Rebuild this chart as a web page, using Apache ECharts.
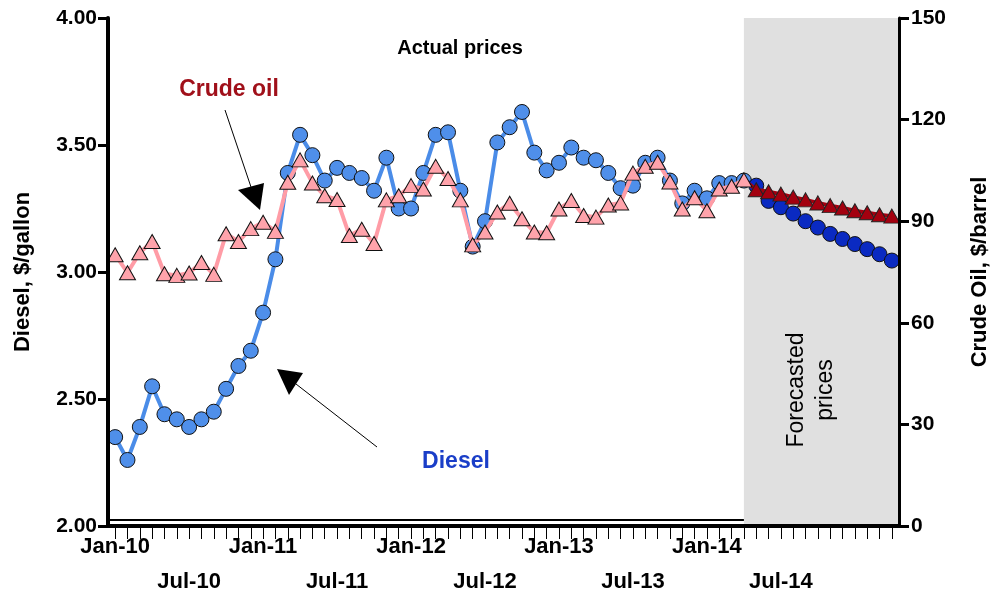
<!DOCTYPE html>
<html>
<head>
<meta charset="utf-8">
<script src="https://cdn.jsdelivr.net/npm/echarts@6/dist/echarts.min.js"></script>
<style>
  html, body { margin: 0; padding: 0; background: #fff; }
  #chart { width: 999px; height: 599px; }
</style>
</head>
<body>
<div id="chart"></div>
<script>
// monthly, Jan-10 .. Apr-14 actual, May-14 .. Apr-15 forecast
const xLabels = ['Jan-10', 'Jul-10', 'Jan-11', 'Jul-11', 'Jan-12', 'Jul-12', 'Jan-13', 'Jul-13', 'Jan-14', 'Jul-14'];

// diesel, $/gallon
const dieselActual = [
  2.35, 2.26, 2.39, 2.55, 2.44, 2.42, 2.39, 2.42, 2.45, 2.54, 2.63, 2.69,
  2.84, 3.05, 3.39, 3.54, 3.46, 3.36, 3.41, 3.39, 3.37, 3.32, 3.45, 3.25,
  3.25, 3.39, 3.54, 3.55, 3.32, 3.10, 3.20, 3.51, 3.57, 3.63, 3.47, 3.40,
  3.43, 3.49, 3.45, 3.44, 3.39, 3.33, 3.34, 3.43, 3.45, 3.36, 3.27, 3.32,
  3.29, 3.35, 3.35, 3.36
];
const dieselForecast = [3.34, 3.28, 3.255, 3.23, 3.20, 3.175, 3.15, 3.13, 3.11, 3.09, 3.07, 3.045];

// crude oil, $/barrel
const crudeActual = [
  80.1, 74.8, 80.7, 84.0, 74.5, 74.0, 74.7, 77.8, 74.3, 86.3, 84.0, 87.8,
  89.7, 87.0, 101.5, 108.1, 101.3, 97.5, 96.4, 85.8, 87.6, 83.4, 96.3, 97.5,
  100.5, 99.5, 106.2, 102.6, 96.3, 83.0, 86.8, 92.7, 95.3, 90.7, 86.8, 86.6,
  93.6, 96.1, 91.7, 91.2, 94.8, 95.4, 104.2, 106.2, 107.4, 101.6, 93.6, 96.9,
  93.1, 99.5, 100.3, 102.2
];
const crudeForecast = [99.3, 98.7, 98.0, 97.1, 96.3, 95.4, 94.6, 93.9, 93.1, 92.5, 91.9, 91.5];

const FONT = 'Liberation Sans';
const lastActual = dieselActual.length - 1;
const nMonths = dieselActual.length + dieselForecast.length;
const xMin = -0.58, xMax = nMonths - 1 + 0.58;

const monthTicks = [];
for (let i = 0; i < nMonths; i++) monthTicks.push(i);
const labelTicks = xLabels.map((l, i) => i * 6);

function pairs(arr, start) {
  return arr.map((v, i) => [start + i, v]);
}
// forecast line joins the last actual month, without a marker there
function forecastData(actual, fc) {
  return [{ value: [lastActual, actual[lastActual]], symbol: 'none' }].concat(pairs(fc, lastActual + 1));
}

const chart = echarts.init(document.getElementById('chart'));

const option = {
  animation: false,
  backgroundColor: '#fff',
  grid: { left: 108, right: 92, top: 18, bottom: 70 },
  xAxis: {
    type: 'value',
    min: xMin,
    max: xMax,
    z: 10,
    splitLine: { show: false },
    axisLine: { onZero: false, lineStyle: { color: '#000', width: 4 } },
    axisTick: { customValues: monthTicks, length: 13, lineStyle: { color: '#000', width: 1 } },
    axisLabel: {
      customValues: labelTicks,
      margin: 3,
      color: '#000',
      fontFamily: FONT,
      fontWeight: 'bold',
      fontSize: 22,
      lineHeight: 35,
      formatter: function (v) {
        const i = Math.round(v / 6);
        return i % 2 === 0 ? xLabels[i] : '\n' + xLabels[i];
      }
    }
  },
  yAxis: [{
    type: 'value',
    min: 2,
    max: 4,
    interval: 0.5,
    z: 10,
    name: 'Diesel, $/gallon',
    nameLocation: 'middle',
    nameRotate: 90,
    nameGap: 74,
    nameTextStyle: { color: '#000', fontFamily: FONT, fontWeight: 'bold', fontSize: 22 },
    splitLine: { show: false },
    axisLine: { show: true, onZero: false, lineStyle: { color: '#000', width: 4 } },
    axisTick: { length: 10, lineStyle: { color: '#000', width: 3 } },
    axisLabel: {
      margin: 11,
      color: '#000',
      fontFamily: FONT,
      fontWeight: 'bold',
      fontSize: 21,
      formatter: v => v.toFixed(2)
    }
  }, {
    type: 'value',
    min: 0,
    max: 150,
    interval: 30,
    z: 10,
    position: 'right',
    name: 'Crude Oil, $/barrel',
    nameLocation: 'middle',
    nameRotate: 90,
    nameGap: 70,
    nameTextStyle: { color: '#000', fontFamily: FONT, fontWeight: 'bold', fontSize: 22 },
    splitLine: { show: false },
    axisLine: { show: true, onZero: false, lineStyle: { color: '#000', width: 3 } },
    axisTick: { length: 10, lineStyle: { color: '#000', width: 3 } },
    axisLabel: {
      margin: 12,
      color: '#000',
      fontFamily: FONT,
      fontWeight: 'bold',
      fontSize: 21
    }
  }],
  series: [
    {
      // forecast shading + thin inner border line under the actual part
      type: 'line',
      z: 1,
      data: [],
      markArea: {
        silent: true,
        itemStyle: { color: '#e0e0e0' },
        data: [[{ xAxis: lastActual, yAxis: 4 }, { xAxis: xMax, yAxis: 2 }]]
      },
      markLine: {
        silent: true,
        symbol: 'none',
        label: { show: false },
        lineStyle: { color: '#000', width: 2, type: 'solid' },
        data: [[{ coord: [xMin, 2.026] }, { coord: [lastActual, 2.026] }]]
      }
    },
    {
      name: 'Diesel',
      type: 'line',
      z: 2,
      yAxisIndex: 0,
      data: pairs(dieselActual, 0),
      symbol: 'circle',
      symbolSize: 15,
      lineStyle: { color: '#4a8ce8', width: 4 },
      itemStyle: { color: '#4f8fea', borderColor: '#111', borderWidth: 1 }
    },
    {
      name: 'Diesel forecast',
      type: 'line',
      z: 3,
      yAxisIndex: 0,
      data: forecastData(dieselActual, dieselForecast),
      symbol: 'circle',
      symbolSize: 15,
      lineStyle: { color: '#0a2ac2', width: 4 },
      itemStyle: { color: '#0a2ac2', borderColor: '#111', borderWidth: 1 }
    },
    {
      name: 'Crude forecast',
      type: 'line',
      z: 4,
      yAxisIndex: 1,
      data: forecastData(crudeActual, crudeForecast),
      symbol: 'triangle',
      symbolSize: [16, 14],
      lineStyle: { color: '#a3000f', width: 4 },
      itemStyle: { color: '#a3000f', borderColor: '#222', borderWidth: 1 }
    },
    {
      name: 'Crude oil',
      type: 'line',
      z: 5,
      yAxisIndex: 1,
      data: pairs(crudeActual, 0),
      symbol: 'triangle',
      symbolSize: [16, 14],
      lineStyle: { color: '#ff9ca6', width: 4 },
      itemStyle: { color: '#ffa3ab', borderColor: '#111', borderWidth: 1 }
    }
  ],
  graphic: [
    { type: 'text', x: 460, y: 48, z: 20, style: { text: 'Actual prices', fill: '#000', font: 'bold 20px ' + FONT, align: 'center', verticalAlign: 'middle' } },
    { type: 'text', x: 229, y: 90, z: 20, style: { text: 'Crude oil', fill: '#a0101a', font: 'bold 23px ' + FONT, align: 'center', verticalAlign: 'middle' } },
    { type: 'text', x: 456, y: 462, z: 20, style: { text: 'Diesel', fill: '#1a3ec8', font: 'bold 23px ' + FONT, align: 'center', verticalAlign: 'middle' } },
    {
      type: 'text', x: 811, y: 390, z: 20, rotation: Math.PI / 2,
      style: { text: 'Forecasted\nprices', fill: '#000', font: '23px ' + FONT, lineHeight: 29, align: 'center', verticalAlign: 'middle' }
    },
    // arrows
    { type: 'line', z: 20, shape: { x1: 225, y1: 110, x2: 252, y2: 190 }, style: { stroke: '#000', lineWidth: 1 } },
    { type: 'polygon', z: 20, shape: { points: [[238, 190], [264, 183], [260, 210]] }, style: { fill: '#000' } },
    { type: 'line', z: 20, shape: { x1: 377, y1: 447, x2: 296, y2: 384 }, style: { stroke: '#000', lineWidth: 1 } },
    { type: 'polygon', z: 20, shape: { points: [[277, 369], [303, 373], [289, 395]] }, style: { fill: '#000' } }
  ]
};

chart.setOption(option);
</script>
</body>
</html>
